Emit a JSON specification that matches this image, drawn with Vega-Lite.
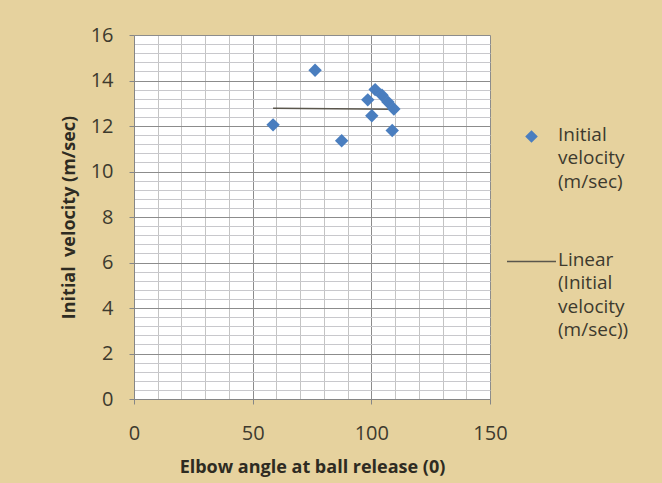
{
  "$schema": "https://vega.github.io/schema/vega-lite/v6.json",
  "width": 356,
  "height": 364,
  "autosize": {"type": "none"},
  "padding": {"left": 134, "top": 35, "right": 172, "bottom": 84},
  "background": "#e6d29e",
  "view": {"fill": "white", "stroke": null},
  "config": {
    "font": "Open Sans",
    "style": {"guide-label": {"lineHeight": 23.5}},
    "axis": {
      "domainColor": "#868686",
      "labelColor": "#3d3a2e",
      "titleColor": "#2e2b22",
      "labelFontSize": 20,
      "labelFont": "Open Sans",
      "titleFont": "Open Sans",
      "titleFontSize": 18,
      "titleFontWeight": "bold",
      "tickSize": 5,
      "labelOverlap": false,
      "labelFlush": false
    }
  },
  "datasets": {
    "points": [
      {"angle": 58.6, "velocity": 12.05, "series": "Initial velocity (m/sec)"},
      {"angle": 76.3, "velocity": 14.45, "series": "Initial velocity (m/sec)"},
      {"angle": 87.5, "velocity": 11.35, "series": "Initial velocity (m/sec)"},
      {"angle": 98.5, "velocity": 13.15, "series": "Initial velocity (m/sec)"},
      {"angle": 101.6, "velocity": 13.6, "series": "Initial velocity (m/sec)"},
      {"angle": 104.5, "velocity": 13.35, "series": "Initial velocity (m/sec)"},
      {"angle": 107.0, "velocity": 13.05, "series": "Initial velocity (m/sec)"},
      {"angle": 109.5, "velocity": 12.75, "series": "Initial velocity (m/sec)"},
      {"angle": 100.2, "velocity": 12.45, "series": "Initial velocity (m/sec)"},
      {"angle": 108.8, "velocity": 11.8, "series": "Initial velocity (m/sec)"}
    ],
    "trend": [
      {"angle": 58.6, "velocity": 12.78, "series": "Linear (Initial velocity (m/sec))"},
      {"angle": 109.5, "velocity": 12.74, "series": "Linear (Initial velocity (m/sec))"}
    ]
  },
  "layer": [
    {
      "data": {"name": "trend"},
      "mark": {"type": "line", "strokeWidth": 1.5},
      "encoding": {
        "x": {
          "field": "angle", "type": "quantitative",
          "scale": {"domain": [0, 150], "nice": false, "zero": false},
          "axis": {
            "title": "Elbow angle at ball release (0)",
            "values": [0, 10, 20, 30, 40, 50, 60, 70, 80, 90, 100, 110, 120, 130, 140, 150],
            "tickCount": 500,
            "labelExpr": "datum.value % 50 === 0 ? '' + datum.value : ''",
            "grid": true,
            "gridColor": {"condition": {"test": "datum.value % 50 === 0", "value": "#8c8c8c"}, "value": "#c4c4c4"},
            "tickColor": {"condition": {"test": "datum.value % 50 === 0", "value": "#868686"}, "value": "transparent"},
            "labelPadding": 19,
            "titlePadding": 15
          }
        },
        "y": {
          "field": "velocity", "type": "quantitative",
          "scale": {"domain": [0, 16], "nice": false, "zero": false},
          "axis": {
            "title": "Initial\u00a0 velocity (m/sec)",
            "values": [0, 0.4, 0.8, 1.2, 1.6, 2, 2.4, 2.8, 3.2, 3.6, 4, 4.4, 4.8, 5.2, 5.6, 6, 6.4, 6.8, 7.2, 7.6, 8, 8.4, 8.8, 9.2, 9.6, 10, 10.4, 10.8, 11.2, 11.6, 12, 12.4, 12.8, 13.2, 13.6, 14, 14.4, 14.8, 15.2, 15.6, 16],
            "tickCount": 500,
            "labelExpr": "abs(datum.value/2 - round(datum.value/2)) < 0.001 ? '' + round(datum.value) : ''",
            "grid": true,
            "gridColor": {"condition": {"test": "abs(datum.value/2 - round(datum.value/2)) < 0.001", "value": "#8c8c8c"}, "value": "#c8c8cc"},
            "tickColor": {"condition": {"test": "abs(datum.value/2 - round(datum.value/2)) < 0.001", "value": "#868686"}, "value": "transparent"},
            "labelPadding": 16,
            "titlePadding": 12
          }
        },
        "color": {
          "field": "series", "type": "nominal",
          "scale": {"domain": ["Initial velocity (m/sec)", "Linear (Initial velocity (m/sec))"], "range": ["#4a7ebf", "#5a564c"]},
          "legend": {
            "title": null,
            "orient": "none",
            "legendX": 372,
            "legendY": 76,
            "padding": 0,
            "symbolSize": 2400,
            "labelFontSize": 19,
            "labelColor": "#3d3a2e",
            "labelLimit": 300,
            "labelBaseline": "top",
            "labelOffset": 1,
            "rowPadding": 44,
            "labelExpr": "datum.value === 'Initial velocity (m/sec)' ? ['Initial', 'velocity', '(m/sec)'] : ['Linear', '(Initial', 'velocity', '(m/sec))']",
            "encode": {
              "symbols": {"update": {
                "size": {"signal": "datum.value === 'Initial velocity (m/sec)' ? 110 : 2400"},
                "stroke": {"scale": "color", "field": "value"},
                "strokeWidth": {"value": 1.5}
              }},
              "labels": {"update": {"dy": {"value": -11}}}
            }
          }
        },
        "shape": {
          "field": "series", "type": "nominal",
          "scale": {"domain": ["Initial velocity (m/sec)", "Linear (Initial velocity (m/sec))"], "range": ["diamond", "stroke"]}
        }
      }
    },
    {
      "data": {"name": "points"},
      "mark": {"type": "point", "filled": true, "opacity": 1, "size": 180},
      "encoding": {
        "x": {"field": "angle", "type": "quantitative"},
        "y": {"field": "velocity", "type": "quantitative"},
        "color": {"field": "series", "type": "nominal"},
        "shape": {"field": "series", "type": "nominal"}
      }
    },
    {
      "mark": {"type": "rect", "fill": "white", "stroke": "black", "strokeWidth": 2},
      "encoding": {
        "x": {"datum": 150.9},
        "x2": {"datum": 220},
        "y": {"datum": 17.14},
        "y2": {"datum": 14.33}
      }
    },
    {
      "mark": {"type": "text", "font": "Liberation Serif", "fontSize": 27, "color": "black", "align": "center", "baseline": "middle"},
      "encoding": {
        "x": {"datum": 183.7},
        "y": {"datum": 15.95},
        "text": {"value": "r = -0.018*"}
      }
    }
  ]
}
